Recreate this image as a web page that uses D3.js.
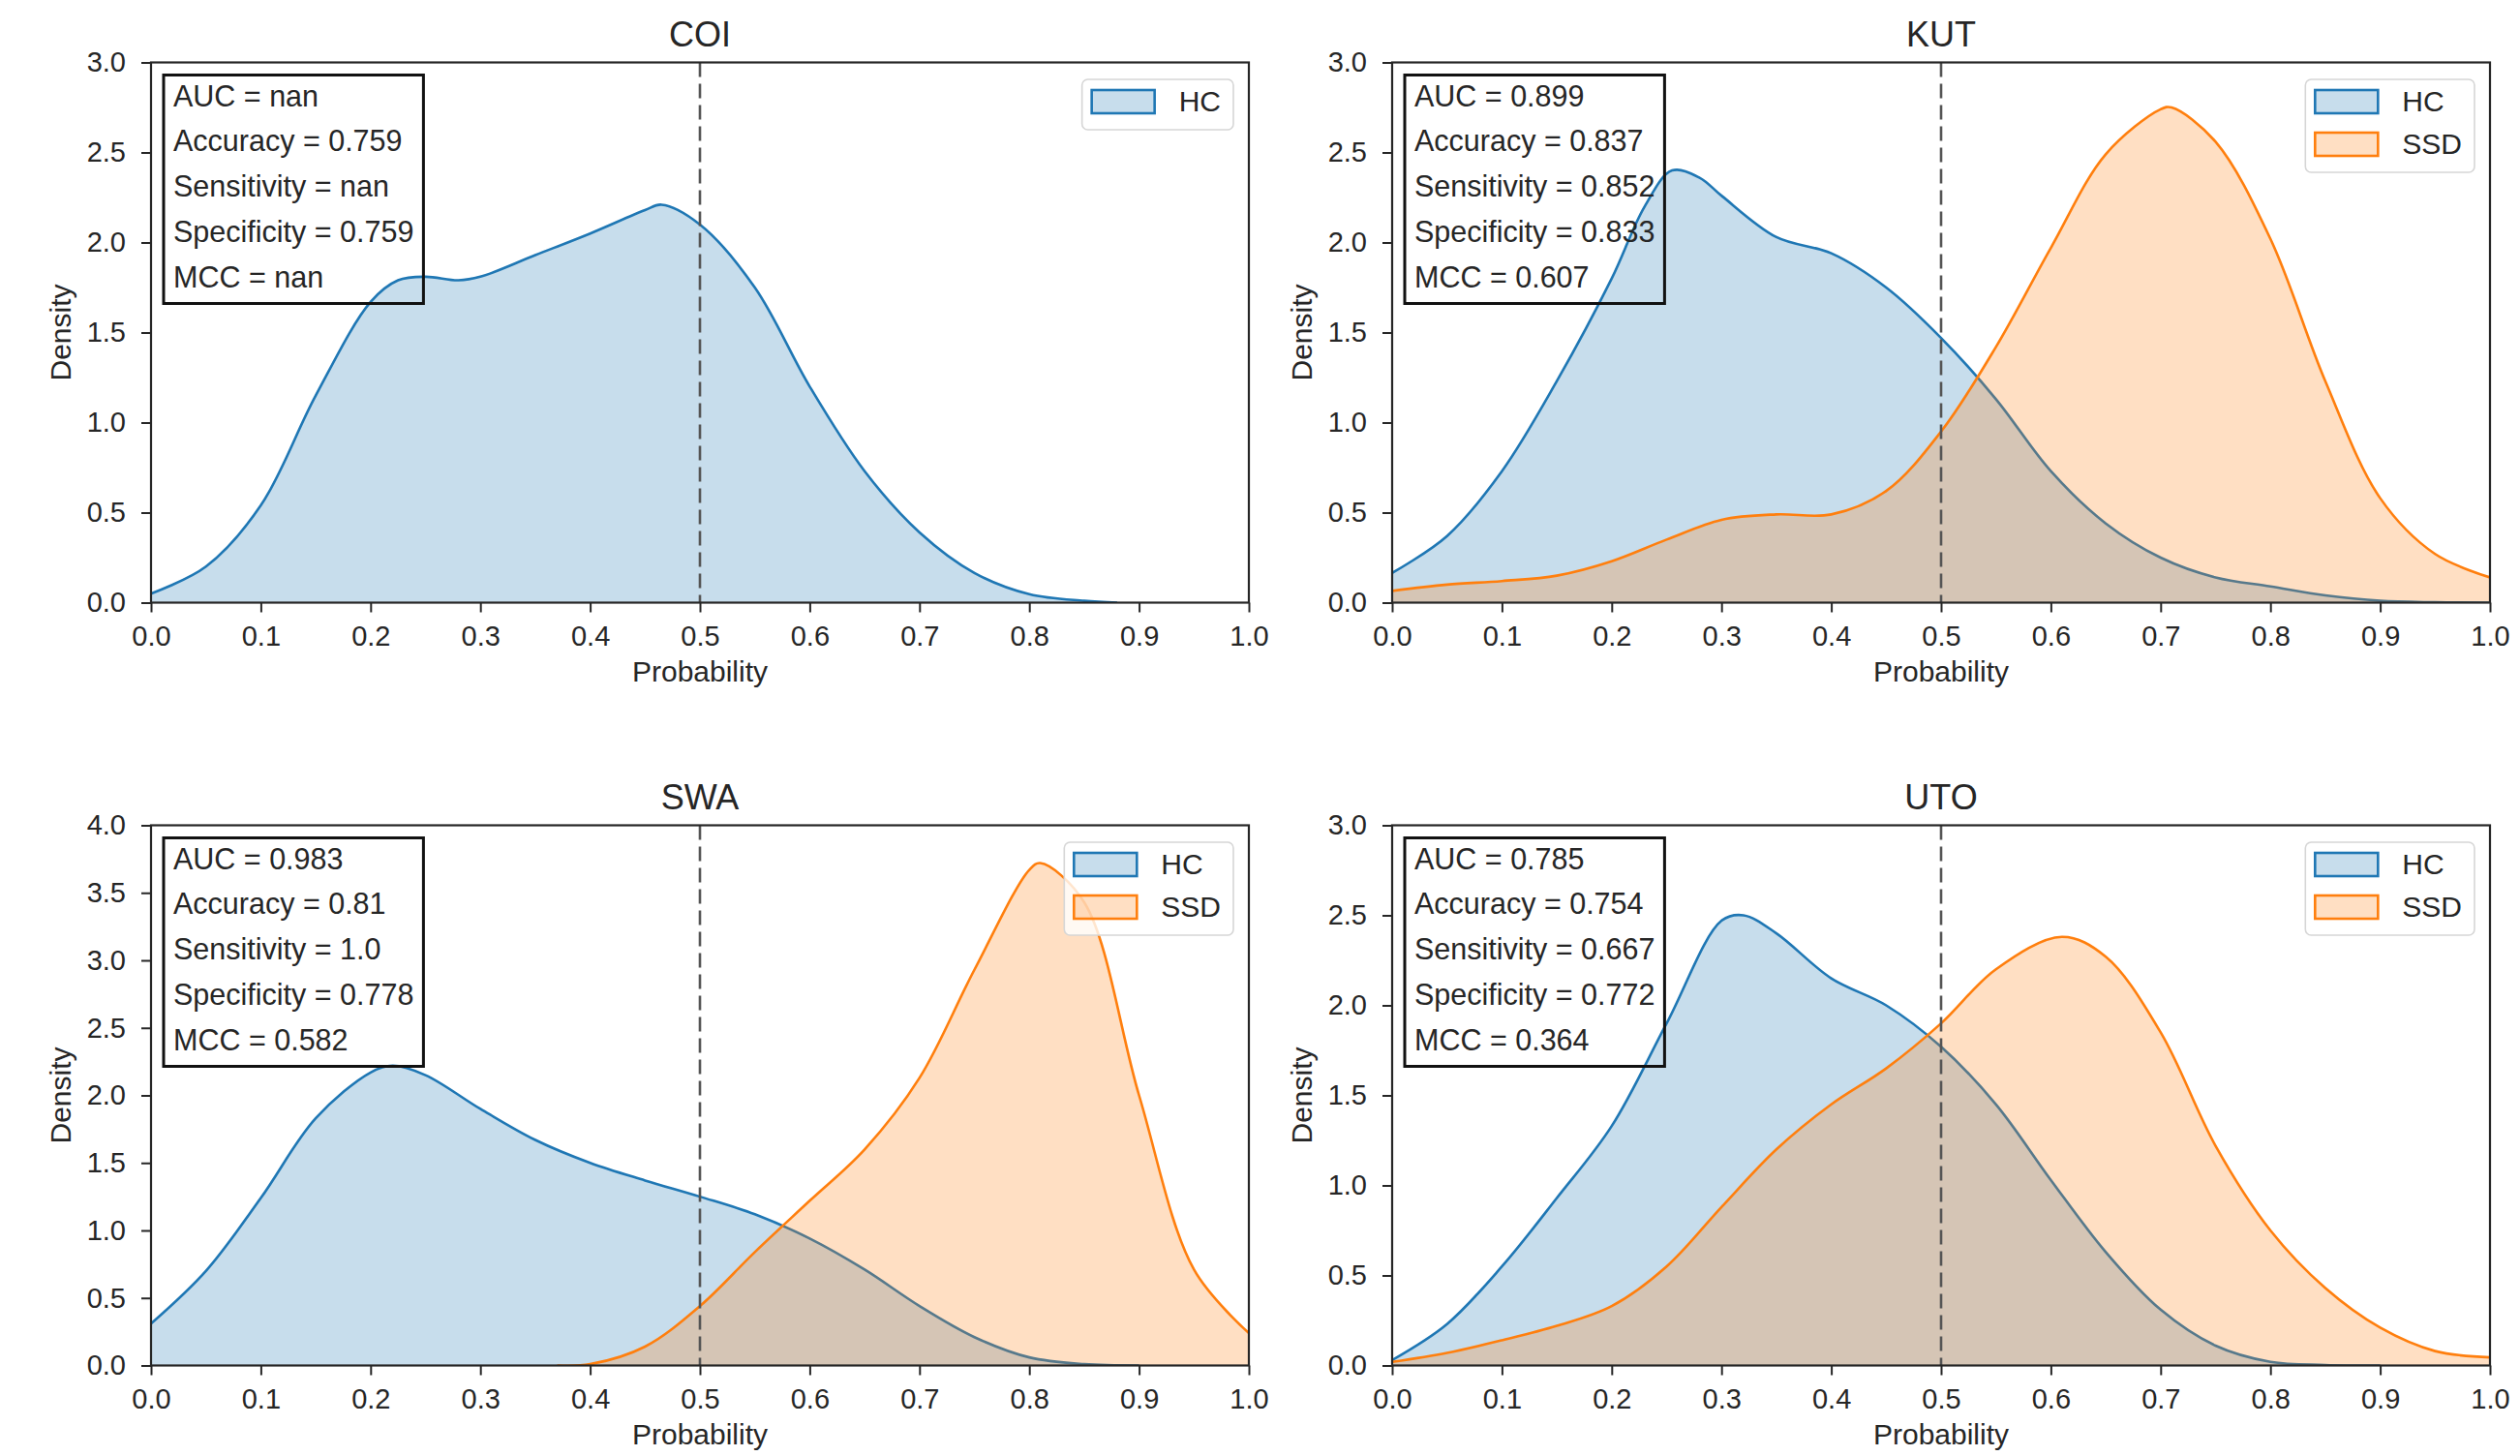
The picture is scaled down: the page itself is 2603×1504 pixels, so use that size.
<!DOCTYPE html>
<html>
<head>
<meta charset="utf-8">
<script src="https://cdn.jsdelivr.net/npm/d3@7"></script>
<style>
  html, body { margin: 0; padding: 0; background: #fff; }
  svg { display: block; font-family: "Liberation Sans", Arial, Helvetica, sans-serif; }
</style>
</head>
<body>
<svg id="chart" width="2603" height="1504"></svg>
<script>
// ---------- DATA ----------
const panelTitles = ["COI", "KUT", "SWA", "UTO"];
const seriesNames = ["HC", "SSD"];
const xTickValues = [0, 0.1, 0.2, 0.3, 0.4, 0.5, 0.6, 0.7, 0.8, 0.9, 1.0];
const yTicks3 = [0, 0.5, 1.0, 1.5, 2.0, 2.5, 3.0];
const yTicks4 = [0, 0.5, 1.0, 1.5, 2.0, 2.5, 3.0, 3.5, 4.0];
const threshold = 0.5;

const metricsCOI = ["AUC = nan", "Accuracy = 0.759", "Sensitivity = nan", "Specificity = 0.759", "MCC = nan"];
const metricsKUT = ["AUC = 0.899", "Accuracy = 0.837", "Sensitivity = 0.852", "Specificity = 0.833", "MCC = 0.607"];
const metricsSWA = ["AUC = 0.983", "Accuracy = 0.81", "Sensitivity = 1.0", "Specificity = 0.778", "MCC = 0.582"];
const metricsUTO = ["AUC = 0.785", "Accuracy = 0.754", "Sensitivity = 0.667", "Specificity = 0.772", "MCC = 0.364"];

// KDE curves: [probability, density]
const coiHC = [[0,0.05],[0.05,0.2],[0.1,0.54],[0.15,1.15],[0.2,1.67],[0.225,1.79],[0.25,1.81],[0.28,1.79],[0.3,1.81],[0.35,1.93],[0.4,2.05],[0.45,2.18],[0.465,2.21],[0.5,2.1],[0.55,1.75],[0.6,1.2],[0.65,0.73],[0.7,0.39],[0.75,0.165],[0.8,0.047],[0.85,0.01],[0.88,0.0]];

const kutHC = [[0,0.165],[0.05,0.37],[0.1,0.73],[0.15,1.23],[0.2,1.8],[0.23,2.2],[0.255,2.4],[0.28,2.36],[0.3,2.26],[0.35,2.03],[0.4,1.94],[0.45,1.75],[0.5,1.47],[0.55,1.13],[0.6,0.73],[0.65,0.44],[0.7,0.25],[0.75,0.14],[0.8,0.09],[0.85,0.04],[0.9,0.01],[0.95,0.002],[1.0,0]];
const kutSSD = [[0,0.065],[0.05,0.1],[0.1,0.12],[0.15,0.15],[0.2,0.23],[0.25,0.35],[0.3,0.46],[0.35,0.49],[0.4,0.49],[0.45,0.62],[0.5,0.95],[0.55,1.42],[0.6,1.97],[0.65,2.49],[0.7,2.74],[0.71,2.75],[0.75,2.56],[0.8,2.02],[0.85,1.23],[0.9,0.58],[0.95,0.27],[1.0,0.14]];

const swaHC = [[0,0.31],[0.05,0.7],[0.1,1.24],[0.15,1.83],[0.2,2.17],[0.22,2.22],[0.25,2.15],[0.3,1.9],[0.35,1.67],[0.4,1.5],[0.45,1.37],[0.5,1.25],[0.55,1.12],[0.6,0.94],[0.65,0.71],[0.7,0.44],[0.75,0.21],[0.8,0.06],[0.85,0.01],[0.9,0]];
const swaSSD = [[0.37,0],[0.4,0.01],[0.45,0.14],[0.5,0.44],[0.55,0.84],[0.6,1.22],[0.65,1.6],[0.7,2.13],[0.75,2.93],[0.8,3.67],[0.81,3.72],[0.85,3.43],[0.9,2.0],[0.95,0.71],[1.0,0.24]];

const utoHC = [[0,0.03],[0.05,0.23],[0.1,0.55],[0.15,0.93],[0.2,1.33],[0.25,1.9],[0.3,2.47],[0.32,2.5],[0.35,2.4],[0.4,2.15],[0.45,2.0],[0.5,1.77],[0.55,1.45],[0.6,1.03],[0.65,0.63],[0.7,0.31],[0.75,0.11],[0.8,0.02],[0.85,0.003],[0.9,0]];
const utoSSD = [[0,0.02],[0.05,0.07],[0.1,0.14],[0.15,0.22],[0.2,0.33],[0.25,0.55],[0.3,0.88],[0.35,1.2],[0.4,1.45],[0.45,1.65],[0.5,1.9],[0.55,2.2],[0.61,2.38],[0.65,2.27],[0.7,1.85],[0.75,1.22],[0.8,0.75],[0.85,0.43],[0.9,0.21],[0.95,0.08],[1.0,0.045]];

// ---------- LAYOUT / STYLE ----------
const colors = { HC: "#1f77b4", SSD: "#ff7f0e" };
const textColor = "#262626";
const panels = [
  { title: panelTitles[0], left: 156,  top: 64.5,  yMax: 3, yTicks: yTicks3, metrics: metricsCOI, series: [["HC", coiHC]] },
  { title: panelTitles[1], left: 1438, top: 64.5,  yMax: 3, yTicks: yTicks3, metrics: metricsKUT, series: [["HC", kutHC], ["SSD", kutSSD]] },
  { title: panelTitles[2], left: 156,  top: 852.5, yMax: 4, yTicks: yTicks4, metrics: metricsSWA, series: [["HC", swaHC], ["SSD", swaSSD]] },
  { title: panelTitles[3], left: 1438, top: 852.5, yMax: 3, yTicks: yTicks3, metrics: metricsUTO, series: [["HC", utoHC], ["SSD", utoSSD]] }
];
const W = 1134, H = 558;

const svg = d3.select("#chart");

panels.forEach((p, idx) => {
  const g = svg.append("g").attr("transform", `translate(${p.left},${p.top})`);
  const x = d3.scaleLinear().domain([0, 1]).range([0, W]);
  const y = d3.scaleLinear().domain([0, p.yMax]).range([H, 0]);

  const clipId = "clip" + idx;
  g.append("clipPath").attr("id", clipId).append("rect").attr("width", W).attr("height", H);
  const plot = g.append("g").attr("clip-path", `url(#${clipId})`);

  const curve = d3.curveCatmullRom.alpha(0.5);
  const area = d3.area().x(d => x(d[0])).y0(y(0)).y1(d => y(d[1])).curve(curve);
  const line = d3.line().x(d => x(d[0])).y(d => y(d[1])).curve(curve);

  p.series.forEach(([name, data]) => {
    plot.append("path").datum(data).attr("d", area)
      .attr("fill", colors[name]).attr("fill-opacity", 0.25);
    plot.append("path").datum(data).attr("d", line)
      .attr("fill", "none").attr("stroke", colors[name]).attr("stroke-width", 2.6);
  });

  // threshold line
  plot.append("line")
    .attr("x1", x(threshold)).attr("x2", x(threshold))
    .attr("y1", 0).attr("y2", H)
    .attr("stroke", "#555").attr("stroke-width", 2.6).attr("stroke-dasharray", "15,7");

  // axes
  const xAxis = g.append("g").attr("transform", `translate(0,${H})`)
    .call(d3.axisBottom(x).tickValues(xTickValues).tickFormat(d3.format(".1f")).tickSize(10).tickPadding(14).tickSizeOuter(0));
  const yAxis = g.append("g")
    .call(d3.axisLeft(y).tickValues(p.yTicks).tickFormat(d3.format(".1f")).tickSize(10).tickPadding(16).tickSizeOuter(0));
  [xAxis, yAxis].forEach(a => {
    a.select(".domain").remove();
    a.selectAll(".tick line").attr("stroke", textColor).attr("stroke-width", 2);
    a.selectAll(".tick text").attr("fill", textColor).style("font-size", "29px")
      .style("font-family", '"Liberation Sans", Arial, sans-serif');
  });

  // frame
  g.append("rect").attr("width", W).attr("height", H)
    .attr("fill", "none").attr("stroke", textColor).attr("stroke-width", 2.2);

  // title and axis labels
  g.append("text").attr("x", W / 2).attr("y", -17).attr("text-anchor", "middle")
    .attr("fill", textColor).style("font-size", "36px").text(p.title);
  g.append("text").attr("x", W / 2).attr("y", H + 81).attr("text-anchor", "middle")
    .attr("fill", textColor).style("font-size", "30px").text("Probability");
  g.append("text").attr("transform", `translate(-83,${H / 2}) rotate(-90)`).attr("text-anchor", "middle")
    .attr("fill", textColor).style("font-size", "30px").text("Density");

  // metrics box
  const box = g.append("g").attr("transform", `translate(13,13)`);
  const boxRect = box.append("rect").attr("fill", "none").attr("stroke", "#111").attr("stroke-width", 3);
  let maxW = 0;
  p.metrics.forEach((t, i) => {
    const tx = box.append("text").attr("x", 10).attr("y", 32 + i * 46.8)
      .attr("fill", textColor).style("font-size", "30.5px").text(t);
    maxW = Math.max(maxW, tx.node().getComputedTextLength());
  });
  boxRect.attr("width", maxW + 20).attr("height", 236);

  // legend
  const n = p.series.length;
  const legH = 33 + (n - 1) * 44 + 19;
  const leg = g.append("g");
  const legRect = leg.append("rect").attr("rx", 6).attr("ry", 6)
    .attr("fill", "#fff").attr("fill-opacity", 0.8).attr("stroke", "#d6d6d6").attr("stroke-width", 1.6);
  let legTextW = 0;
  p.series.forEach(([name], i) => {
    const by = 33 + i * 44;
    leg.append("rect").attr("x", 10).attr("y", by - 22).attr("width", 65).attr("height", 24)
      .attr("fill", colors[name]).attr("fill-opacity", 0.25).attr("stroke", colors[name]).attr("stroke-width", 2.6);
    const t = leg.append("text").attr("x", 100).attr("y", by).attr("fill", textColor)
      .style("font-size", "30px").text(name);
    legTextW = Math.max(legTextW, t.node().getComputedTextLength());
  });
  const legW = 100 + legTextW + 13;
  legRect.attr("width", legW).attr("height", legH);
  leg.attr("transform", `translate(${W - 16 - legW},17.5)`);
});
</script>
</body>
</html>
